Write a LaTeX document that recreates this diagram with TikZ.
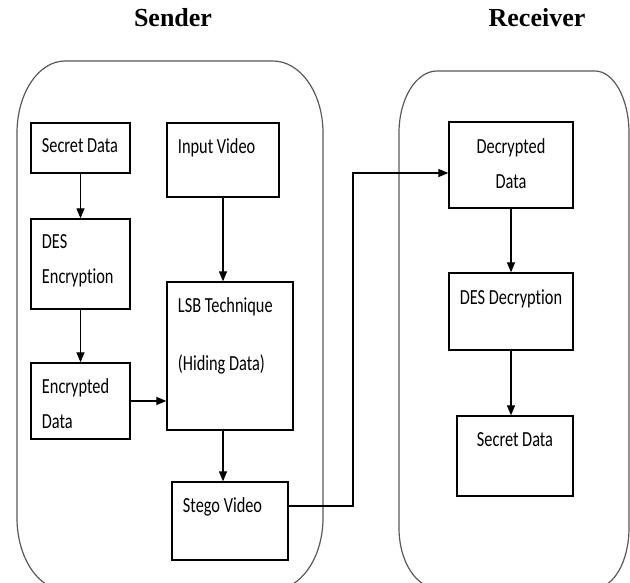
\documentclass[tikz,border=0pt]{standalone}
\usepackage{fontspec}
\usetikzlibrary{arrows.meta}
\newfontfamily\boxfont[FakeStretch=0.76, Ligatures=NoCommon]{Carlito}
\newfontfamily\titlefont{Liberation Serif}

\begin{document}
\begin{tikzpicture}[x=1pt, y=-1pt, >={Triangle[length=10pt,width=8pt]}, line width=1.2pt,
    box/.style={draw, inner sep=0pt, line width=1.3pt},
    lt/.style={anchor=north west, inner sep=0pt, xshift=11pt, yshift=-16pt, align=left, font=\boxfont\fontsize{21.5}{35}\selectfont},
    ct/.style={anchor=north, inner sep=0pt, yshift=-17pt, align=center, font=\boxfont\fontsize{21.5}{35}\selectfont},
    ttl/.style={anchor=base, font=\titlefont\bfseries\fontsize{26}{30}\selectfont},
    frame/.style={draw=black!65, line width=1.2pt}]
    \useasboundingbox (0,0) rectangle (630,583);
    \clip (0,0) rectangle (630,583);

    % 1. 标题
    \node[ttl] (sender) at (173,27) {Sender};
    \node[ttl] (receiver) at (537,27) {Receiver};

    % 2. 圆角外框
    \draw[frame] (17,133) arc[start angle=180, end angle=270, x radius=48, y radius=72] -- (273,61)
        arc[start angle=270, end angle=360, x radius=50, y radius=72] -- (323,518)
        arc[start angle=0, end angle=90, x radius=50, y radius=72] -- (65,590)
        arc[start angle=90, end angle=180, x radius=48, y radius=72] -- cycle;
    \draw[frame] (399,133) arc[start angle=180, end angle=270, x radius=38, y radius=62] -- (595,71)
        arc[start angle=270, end angle=360, x radius=34, y radius=62] -- (629,528)
        arc[start angle=0, end angle=90, x radius=34, y radius=60] -- (437,588)
        arc[start angle=90, end angle=180, x radius=38, y radius=60] -- cycle;

    % 3. 发送端方框
    \node[box, minimum width=99, minimum height=50, label={[lt]north west:Secret Data}] (sdata) at (80.5,148) {};
    \node[box, minimum width=112, minimum height=74, label={[lt]north west:Input Video}] (invid) at (223,160) {};
    \node[box, minimum width=99, minimum height=90, label={[lt]north west:{DES\\Encryption}}] (desenc) at (80.5,264) {};
    \node[box, minimum width=126, minimum height=148, label={[lt]north west:{LSB Technique\\[23pt](Hiding Data)}}] (lsb) at (230,356) {};
    \node[box, minimum width=99, minimum height=76, label={[lt]north west:{Encrypted\\Data}}] (encdata) at (80.5,401) {};
    \node[box, minimum width=116, minimum height=78, label={[lt]north west:Stego Video}] (stego) at (230,521) {};

    % 4. 接收端方框
    \node[box, minimum width=124, minimum height=86, label={[ct]north:{Decrypted\\Data}}] (decdata) at (511,165) {};
    \node[box, minimum width=124, minimum height=77, label={[ct]north:DES Decryption}] (desdec) at (511,311.5) {};
    \node[box, minimum width=116, minimum height=80, label={[ct]north:Secret Data}] (rsdata) at (515,456) {};

    % 5. 连线
    \coordinate (bend) at (353,173);
    \draw[->] (sdata) -- (desenc);
    \draw[->] (desenc) -- (encdata);
    \draw[->] (invid.south) -- (invid.south |- lsb.north);
    \draw[->] (encdata) -- (encdata -| lsb.west);
    \draw[->] ([xshift=-7pt]lsb.south) -- ([xshift=-7pt]stego.north);
    \draw[->] ([yshift=15pt]stego.east) -| (bend) -- (bend -| decdata.west);
    \draw[->] (decdata) -- (desdec);
    \draw[->] (desdec.south) -- (desdec.south |- rsdata.north);
\end{tikzpicture}
\end{document}
